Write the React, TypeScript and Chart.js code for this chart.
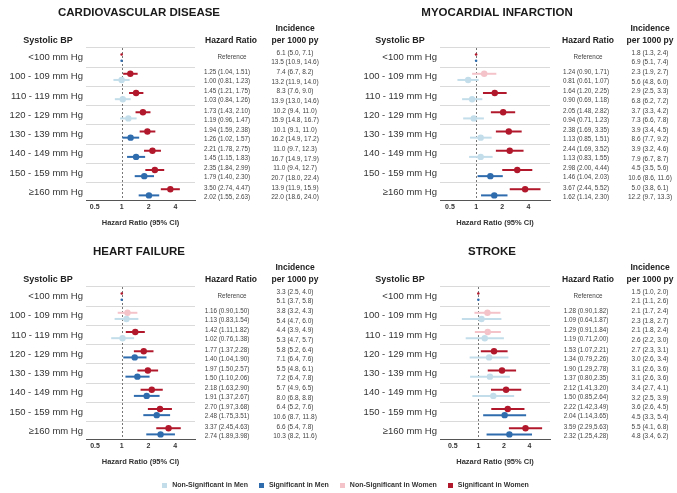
import React, { useEffect, useRef } from 'react';
import { Chart, registerables } from 'chart.js';

Chart.register(...registerables);

const FONT = "'Liberation Sans', Arial, Helvetica, sans-serif";

const rowLabels = ['<100 mm Hg', '100 - 109 mm Hg', '110 - 119 mm Hg', '120 - 129 mm Hg', '130 - 139 mm Hg', '140 - 149 mm Hg', '150 - 159 mm Hg', '≥160 mm Hg'];
const xTickValues = [0.5, 1, 2, 4];

// Hazard ratios [estimate, lower, upper]; first row (<100) is the reference
const cvdWomenHR = [null, [1.25, 1.04, 1.51], [1.45, 1.21, 1.75], [1.73, 1.43, 2.10], [1.94, 1.59, 2.38], [2.21, 1.78, 2.75], [2.35, 1.84, 2.99], [3.50, 2.74, 4.47]];
const cvdMenHR = [null, [1.00, 0.81, 1.23], [1.03, 0.84, 1.26], [1.19, 0.96, 1.47], [1.26, 1.02, 1.57], [1.45, 1.15, 1.83], [1.79, 1.40, 2.30], [2.02, 1.55, 2.63]];
const cvdWomenInc = [[6.1, 5.0, 7.1], [7.4, 6.7, 8.2], [8.3, 7.6, 9.0], [10.2, 9.4, 11.0], [10.1, 9.1, 11.0], [11.0, 9.7, 12.3], [11.0, 9.4, 12.7], [13.9, 11.9, 15.9]];
const cvdMenInc = [[13.5, 10.9, 14.6], [13.2, 11.9, 14.0], [13.9, 13.0, 14.6], [15.9, 14.8, 16.7], [16.2, 14.9, 17.2], [16.7, 14.9, 17.9], [20.7, 18.0, 22.4], [22.0, 18.6, 24.0]];

const miWomenHR = [null, [1.24, 0.90, 1.71], [1.64, 1.20, 2.25], [2.05, 1.48, 2.82], [2.38, 1.69, 3.35], [2.44, 1.69, 3.52], [2.98, 2.00, 4.44], [3.67, 2.44, 5.52]];
const miMenHR = [null, [0.81, 0.61, 1.07], [0.90, 0.69, 1.18], [0.94, 0.71, 1.23], [1.13, 0.85, 1.51], [1.13, 0.83, 1.55], [1.46, 1.04, 2.03], [1.62, 1.14, 2.30]];
const miWomenInc = [[1.8, 1.3, 2.4], [2.3, 1.9, 2.7], [2.9, 2.5, 3.3], [3.7, 3.3, 4.2], [3.9, 3.4, 4.5], [3.9, 3.2, 4.6], [4.5, 3.5, 5.6], [5.0, 3.8, 6.1]];
const miMenInc = [[6.9, 5.1, 7.4], [5.6, 4.8, 6.0], [6.8, 6.2, 7.2], [7.3, 6.6, 7.8], [8.6, 7.7, 9.2], [7.9, 6.7, 8.7], [10.6, 8.6, 11.6], [12.2, 9.7, 13.3]];

const hfWomenHR = [null, [1.16, 0.90, 1.50], [1.42, 1.11, 1.82], [1.77, 1.37, 2.28], [1.97, 1.50, 2.57], [2.18, 1.63, 2.90], [2.70, 1.97, 3.68], [3.37, 2.45, 4.63]];
const hfMenHR = [null, [1.13, 0.83, 1.54], [1.02, 0.76, 1.38], [1.40, 1.04, 1.90], [1.50, 1.10, 2.06], [1.91, 1.37, 2.67], [2.48, 1.75, 3.51], [2.74, 1.89, 3.98]];
const hfWomenInc = [[3.3, 2.5, 4.0], [3.8, 3.2, 4.3], [4.4, 3.9, 4.9], [5.8, 5.2, 6.4], [5.5, 4.8, 6.1], [5.7, 4.9, 6.5], [6.4, 5.2, 7.6], [6.6, 5.4, 7.8]];
const hfMenInc = [[5.1, 3.7, 5.8], [5.4, 4.7, 6.0], [5.3, 4.7, 5.7], [7.1, 6.4, 7.6], [7.2, 6.4, 7.8], [8.0, 6.8, 8.8], [10.6, 8.7, 11.8], [10.3, 8.2, 11.6]];

const strokeWomenHR = [null, [1.28, 0.90, 1.82], [1.29, 0.91, 1.84], [1.53, 1.07, 2.21], [1.90, 1.29, 2.78], [2.12, 1.41, 3.20], [2.22, 1.42, 3.49], [3.59, 2.29, 5.63]];
const strokeMenHR = [null, [1.09, 0.64, 1.87], [1.19, 0.71, 2.00], [1.34, 0.79, 2.26], [1.37, 0.80, 2.35], [1.50, 0.85, 2.64], [2.04, 1.14, 3.65], [2.32, 1.25, 4.28]];
const strokeWomenInc = [[1.5, 1.0, 2.0], [2.1, 1.7, 2.4], [2.1, 1.8, 2.4], [2.7, 2.3, 3.1], [3.1, 2.6, 3.6], [3.4, 2.7, 4.1], [3.6, 2.6, 4.5], [5.5, 4.1, 6.8]];
const strokeMenInc = [[2.1, 1.1, 2.6], [2.3, 1.8, 2.7], [2.6, 2.2, 3.0], [3.0, 2.6, 3.4], [3.1, 2.6, 3.6], [3.2, 2.5, 3.9], [4.5, 3.3, 5.4], [4.8, 3.4, 6.2]];

const legendLabels = ['Non-Significant in Men', 'Significant in Men', 'Non-Significant in Women', 'Significant in Women'];

const SIG_W = '#B2182B';
const NS_W = '#F4C3CA';
const SIG_M = '#2F6CAE';
const NS_M = '#C3DEEA';
const legendColors = [NS_M, SIG_M, NS_W, SIG_W];

type Side = 'L' | 'R';
interface PanelSpec {
  title: string;
  women: (number[] | null)[];
  men: (number[] | null)[];
  incW: number[][];
  incM: number[][];
  sep: string;
  xMin: number;
  xMax: number;
  side: Side;
  left: number;
  top: number;
  titleX: number;
}

const GEO = {
  L: { W: 340, H: 240, areaLeft: 86, areaRight: 195, sbpX: 48, hrX: 227, refX: 232, hrHeadX: 231, incX: 295 },
  R: { W: 337, H: 240, areaLeft: 100, areaRight: 210, sbpX: 60, hrX: 246, refX: 248, hrHeadX: 248, incX: 310 },
};
const AREA_TOP = 48;
const AREA_BOTTOM = 200;

const panels: PanelSpec[] = [
  { title: 'CARDIOVASCULAR DISEASE', women: cvdWomenHR, men: cvdMenHR, incW: cvdWomenInc, incM: cvdMenInc, sep: ', ', xMin: 0.40, xMax: 6.6, side: 'L', left: 0, top: 0, titleX: 139 },
  { title: 'MYOCARDIAL INFARCTION', women: miWomenHR, men: miMenHR, incW: miWomenInc, incM: miMenInc, sep: ', ', xMin: 0.384, xMax: 7.1, side: 'R', left: 340, top: 0, titleX: 157 },
  { title: 'HEART FAILURE', women: hfWomenHR, men: hfMenHR, incW: hfWomenInc, incM: hfMenInc, sep: ',', xMin: 0.395, xMax: 6.7, side: 'L', left: 0, top: 239, titleX: 139 },
  { title: 'STROKE', women: strokeWomenHR, men: strokeMenHR, incW: strokeWomenInc, incM: strokeMenInc, sep: ',', xMin: 0.354, xMax: 6.97, side: 'R', left: 340, top: 239, titleX: 152 },
];

const hrText = (a: number[], sep: string) => `${a[0].toFixed(2)} (${a[1].toFixed(2)}${sep}${a[2].toFixed(2)})`;
const incText = (a: number[]) => `${a[0].toFixed(1)} (${a[1].toFixed(1)}, ${a[2].toFixed(1)})`;

function buildPoints(rows: (number[] | null)[], offset: number, sigColor: string, nsColor: string) {
  return rows.map((r, i) => {
    if (!r) return { x: 1, y: i + offset, lo: null, hi: null, color: sigColor, ref: true };
    const sig = r[1] > 1 || r[2] < 1;
    return { x: r[0], y: i + offset, lo: r[1], hi: r[2], color: sig ? sigColor : nsColor, ref: false };
  });
}

function ForestPanel({ p }: { p: PanelSpec }) {
  const ref = useRef<HTMLCanvasElement>(null);
  const g = GEO[p.side];

  useEffect(() => {
    const canvas = ref.current;
    if (!canvas) return;

    const womenPts = buildPoints(p.women, -0.16, SIG_W, NS_W);
    const menPts = buildPoints(p.men, 0.16, SIG_M, NS_M);

    const forestPlugin = {
      id: 'forest',
      beforeDatasetsDraw(chart: any) {
        const { ctx, chartArea } = chart;
        const xs = chart.scales.x;
        const ys = chart.scales.y;
        ctx.save();
        const x1 = Math.round(xs.getPixelForValue(1)) + 0.5;
        ctx.setLineDash([2, 2]);
        ctx.strokeStyle = '#777';
        ctx.lineWidth = 1;
        ctx.beginPath();
        ctx.moveTo(x1, chartArea.top);
        ctx.lineTo(x1, chartArea.bottom);
        ctx.stroke();
        ctx.setLineDash([]);
        ctx.lineWidth = 2;
        chart.data.datasets.forEach((ds: any) => {
          ds.data.forEach((pt: any) => {
            if (pt.lo == null) return;
            const y = ys.getPixelForValue(pt.y);
            ctx.strokeStyle = pt.color;
            ctx.beginPath();
            ctx.moveTo(xs.getPixelForValue(pt.lo), y);
            ctx.lineTo(xs.getPixelForValue(pt.hi), y);
            ctx.stroke();
          });
        });
        ctx.restore();
      },
      afterDraw(chart: any) {
        const { ctx } = chart;
        const ys = chart.scales.y;
        ctx.save();
        ctx.textAlign = 'center';
        ctx.textBaseline = 'middle';
        ctx.fillStyle = '#1a1a1a';
        ctx.font = `bold 11.5px ${FONT}`;
        ctx.fillText(p.title, p.titleX, 12.5);
        ctx.fillStyle = '#222';
        ctx.font = `bold 9px ${FONT}`;
        ctx.fillText('Systolic BP', g.sbpX, 40.5);
        ctx.font = `bold 8.5px ${FONT}`;
        ctx.fillText('Hazard Ratio', g.hrHeadX, 40.5);
        ctx.fillText('Incidence', g.incX, 28.5);
        ctx.fillText('per 1000 py', g.incX, 40.5);
        ctx.fillStyle = '#444';
        rowLabels.forEach((_, i) => {
          const yc = ys.getPixelForValue(i);
          ctx.font = `6.3px ${FONT}`;
          const w = p.women[i];
          const m = p.men[i];
          if (!w || !m) {
            ctx.fillText('Reference', g.refX, yc);
          } else {
            ctx.fillText(hrText(w, p.sep), g.hrX, yc - 4.5);
            ctx.fillText(hrText(m, p.sep), g.hrX, yc + 4.5);
          }
          ctx.font = `6.5px ${FONT}`;
          ctx.fillText(incText(p.incW[i]), g.incX, yc - 4.5);
          ctx.fillText(incText(p.incM[i]), g.incX, yc + 5);
        });
        ctx.restore();
      },
    };

    const chart = new Chart(canvas, {
      type: 'scatter',
      data: {
        datasets: [
          {
            label: 'Men',
            data: menPts as any,
            pointRadius: (c: any) => (c.raw && c.raw.ref ? 1.3 : 3.2),
            pointBackgroundColor: (c: any) => (c.raw ? c.raw.color : SIG_M),
            pointBorderWidth: 0,
            pointHoverRadius: 3.2,
          },
          {
            label: 'Women',
            data: womenPts as any,
            pointRadius: (c: any) => (c.raw && c.raw.ref ? 1.3 : 3.2),
            pointBackgroundColor: (c: any) => (c.raw ? c.raw.color : SIG_W),
            pointBorderWidth: 0,
            pointHoverRadius: 3.2,
          },
        ],
      },
      options: {
        animation: false,
        responsive: false,
        devicePixelRatio: 1,
        events: [],
        layout: { padding: { left: 0, right: g.W - g.areaRight, top: AREA_TOP, bottom: 0 } },
        plugins: { legend: { display: false }, tooltip: { enabled: false }, title: { display: false } },
        scales: {
          x: {
            type: 'logarithmic',
            min: p.xMin,
            max: p.xMax,
            afterBuildTicks: (s: any) => {
              s.ticks = xTickValues.map((v) => ({ value: v }));
            },
            afterFit: (s: any) => {
              s.height = g.H - AREA_BOTTOM;
            },
            grid: { display: false, drawTicks: false },
            border: { display: true, color: '#555', width: 1 },
            ticks: {
              callback: (v: any) => String(v),
              font: { family: FONT, size: 7, weight: 'bold' },
              color: '#333',
              padding: 3,
              maxRotation: 0,
              autoSkip: false,
            },
            title: {
              display: true,
              text: 'Hazard Ratio (95% CI)',
              font: { family: FONT, size: 7.5, weight: 'bold' },
              color: '#333',
              padding: { top: 0, bottom: 13 },
            },
          },
          y: {
            type: 'linear',
            min: -0.5,
            max: 7.4,
            reverse: true,
            afterBuildTicks: (s: any) => {
              s.ticks = rowLabels.map((_, i) => ({ value: i }));
            },
            afterFit: (s: any) => {
              s.width = g.areaLeft;
            },
            grid: { display: true, offset: true, color: '#DADADA', lineWidth: 1, drawTicks: false },
            border: { display: false },
            ticks: {
              callback: (v: any) => rowLabels[v] ?? '',
              font: { family: FONT, size: 9.5 },
              color: '#333',
              padding: 3,
              autoSkip: false,
            },
          },
        },
      } as any,
      plugins: [forestPlugin],
    });
    return () => chart.destroy();
  }, []);

  return (
    <div style={{ position: 'absolute', left: p.left, top: p.top, width: g.W, height: g.H }}>
      <canvas ref={ref} width={g.W} height={g.H} style={{ width: g.W, height: g.H, display: 'block' }} />
    </div>
  );
}

export default function App() {
  return (
    <div style={{ position: 'absolute', left: 0, top: 0, width: 677, height: 493, background: '#fff', overflow: 'hidden' }}>
      {panels.map((p) => (
        <ForestPanel key={p.title} p={p} />
      ))}
      <div
        style={{
          position: 'absolute',
          left: 7,
          top: 480,
          width: 677,
          height: 10,
          display: 'flex',
          justifyContent: 'center',
          alignItems: 'center',
          gap: 11,
          fontFamily: FONT,
          fontWeight: 'bold',
          fontSize: 7,
          color: '#333',
          lineHeight: '10px',
          whiteSpace: 'nowrap',
        }}
      >
        {legendLabels.map((lab, i) => (
          <div key={lab} style={{ display: 'flex', alignItems: 'center' }}>
            <span style={{ display: 'inline-block', width: 5, height: 5, background: legendColors[i], marginRight: 5 }} />
            <span>{lab}</span>
          </div>
        ))}
      </div>
    </div>
  );
}
